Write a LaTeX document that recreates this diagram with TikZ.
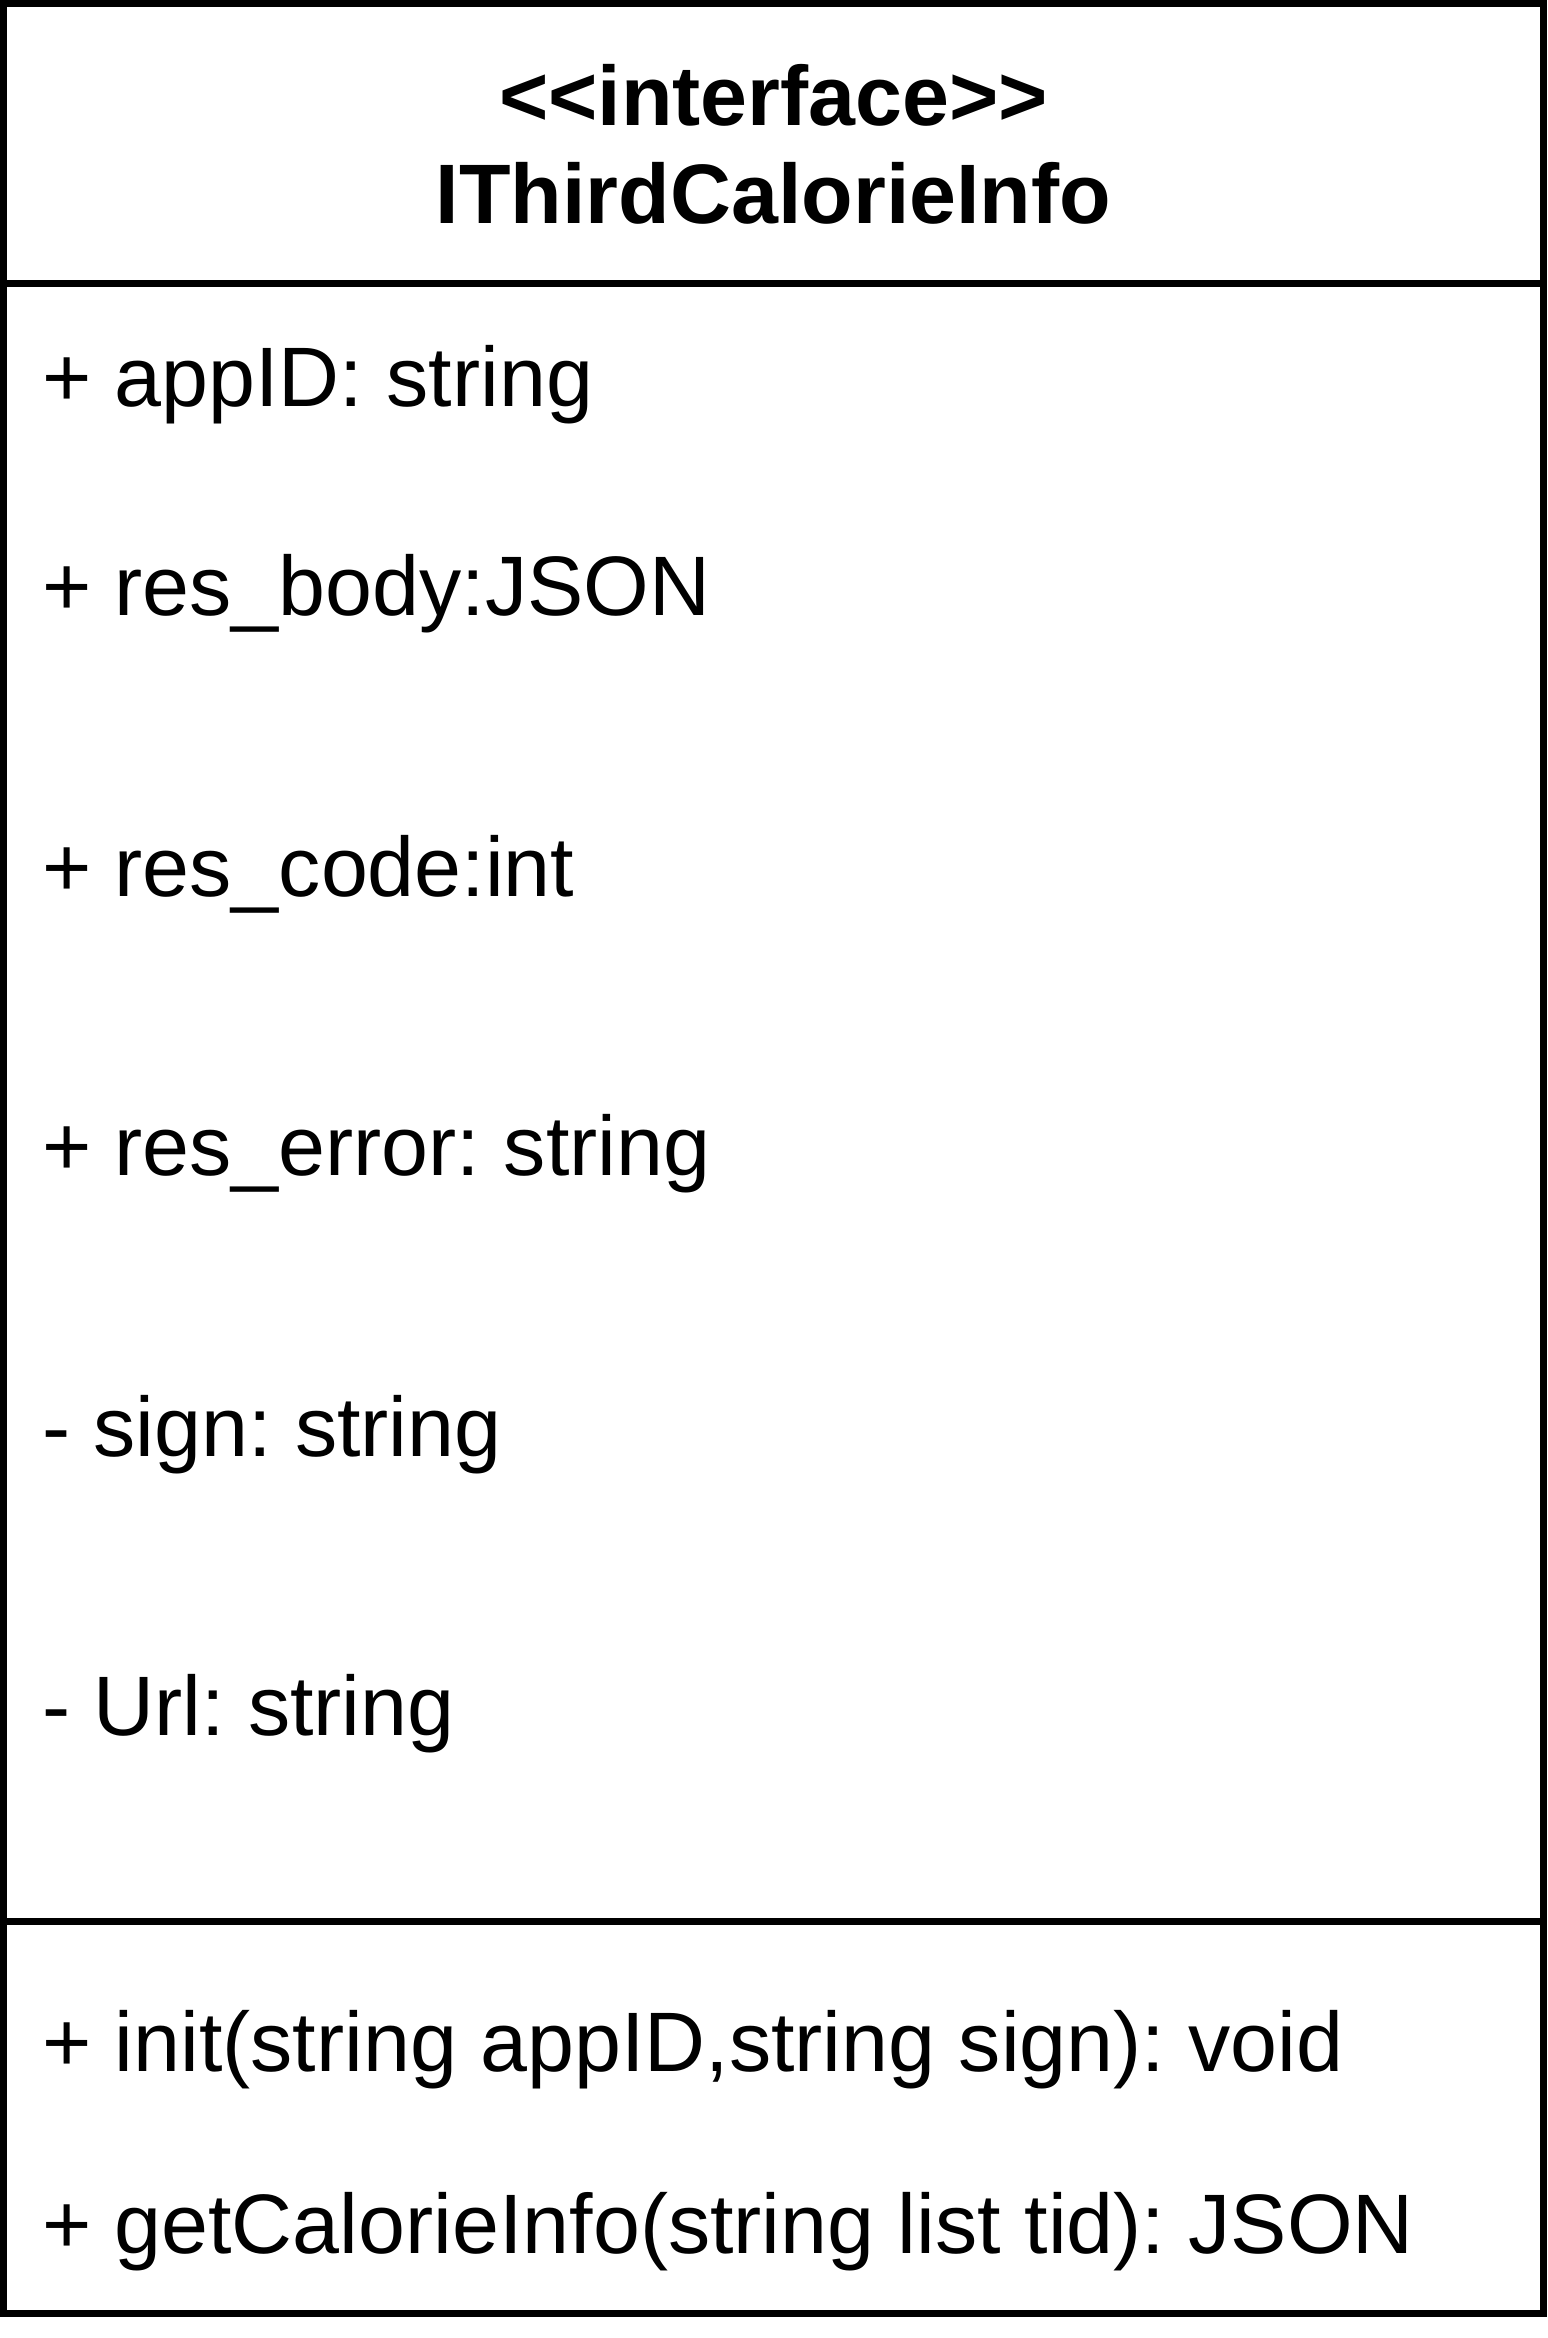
\documentclass[tikz,border=0pt]{standalone}
\usepackage{fontspec}
\setmainfont{Liberation Sans}
\frenchspacing
\begin{document}
\begin{tikzpicture}[x=0.01cm,y=-0.01cm,
  umlline/.style={draw=black,line width=0.07cm},
  attr/.style={anchor=base west,inner sep=0pt,outer sep=0pt,font=\fontsize{24}{28}\selectfont},
  ttl/.style={anchor=base,inner sep=0pt,outer sep=0pt,font=\fontsize{24}{28}\selectfont\bfseries}]
\useasboundingbox (0,0) rectangle (1547,2338);
\coordinate (tl) at (3.5,3.5);
\coordinate (br) at (1543.5,2313);
\coordinate (h1l) at (3.5,283.5);
\coordinate (h1r) at (1543.5,283.5);
\coordinate (h2l) at (3.5,1921.5);
\coordinate (h2r) at (1543.5,1921.5);
\draw[umlline] (tl) rectangle (br);
\draw[umlline] (h1l) -- (h1r);
\draw[umlline] (h2l) -- (h2r);
\node[ttl] (stereo) at (773.5,125) {<\kern0pt<interface>\kern0pt>};
\node[ttl] (name) at (773.5,223) {IThirdCalorieInfo};
\node[attr] (a1) at (42,406) {+ appID: string};
\node[attr] (a2) at (42,615) {+ res\_body:JSON};
\node[attr] (a3) at (42,896) {+ res\_code:int};
\node[attr] (a4) at (42,1175) {+ res\_error: string};
\node[attr] (a5) at (42,1456) {- sign: string};
\node[attr] (a6) at (42,1735) {- Url: string};
\node[attr] (m1) at (42,2071) {+ init(string appID,string sign): void};
\node[attr] (m2) at (42,2253) {+ getCalorieInfo(string list tid): JSON};
\end{tikzpicture}
\end{document}
